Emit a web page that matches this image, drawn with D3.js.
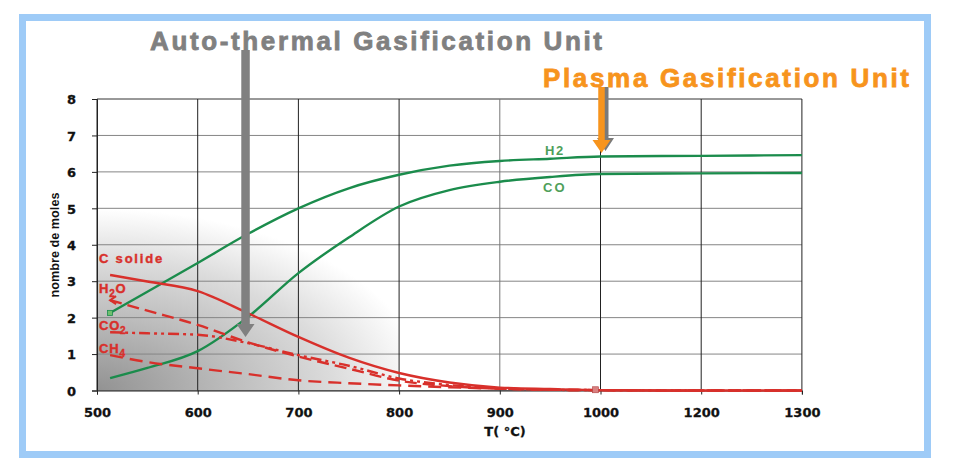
<!DOCTYPE html>
<html>
<head>
<meta charset="utf-8">
<script src="https://cdn.jsdelivr.net/npm/d3@7/dist/d3.min.js"></script>
<style>
html,body{margin:0;padding:0;background:#fff;}
svg{display:block;}
</style>
</head>
<body>
<svg id="chart" width="978" height="463"></svg>
<script>
// ---- data ----
const xTicks = [500, 600, 700, 800, 900, 1000, 1200, 1300];
const yTicks = [0, 1, 2, 3, 4, 5, 6, 7, 8];
const temps   = [513, 550, 600, 650, 700, 750, 800, 850, 900, 950, 1000, 1200, 1300];
const h2      = [2.13, 2.71, 3.50, 4.30, 5.00, 5.55, 5.92, 6.17, 6.30, 6.36, 6.42, 6.44, 6.46];
const co      = [0.34, 0.62, 1.08, 2.02, 3.22, 4.20, 5.05, 5.50, 5.73, 5.86, 5.94, 5.96, 5.97];
const cSolide = [3.17, 2.99, 2.73, 2.12, 1.47, 0.90, 0.48, 0.22, 0.08, 0.04, 0.01, 0, 0];
const h2o     = [2.48, 2.19, 1.80, 1.32, 0.93, 0.60, 0.27, 0.12, 0.05, 0.02, 0.01, 0, 0];
const co2     = [1.60, 1.57, 1.53, 1.30, 0.97, 0.68, 0.33, 0.15, 0.06, 0.02, 0.01, 0, 0];
const ch4     = [0.97, 0.78, 0.61, 0.45, 0.28, 0.20, 0.14, 0.09, 0.05, 0.02, 0.01, 0, 0];
const titleAuto = "Auto-thermal Gasification Unit";
const titlePlasma = "Plasma Gasification Unit";
const yLabel = "nombre de moles";
const xLabel = "T( °C)";
const autoT = 647;    // temperature pointed by the grey arrow
const plasmaT = 1000; // temperature pointed by the orange arrow

(function () {
// ---- layout ----
const svg = d3.select("#chart");
const pLeft = 97, pTop = 99, step = 100.7, pBottom = 390.5;
const x = d3.scaleLinear().domain(xTicks).range(xTicks.map((d, i) => pLeft + i * step));
const y = d3.scaleLinear().domain([0, 8]).range([pBottom, pTop]);
const pRight = x(1300);

const RED = "#d8302b", GREEN = "#1b8c4c", GREEN_TXT = "#4f9f5a", ORANGE = "#f7941d", GREY = "#808080";

// frame
svg.append("rect").attr("x", 22.5).attr("y", 17.5).attr("width", 905).attr("height", 437)
  .attr("fill", "#fff").attr("stroke", "#9ecbf7").attr("stroke-width", 7);

// shading gradient
const defs = svg.append("defs");
const grad = defs.append("radialGradient").attr("id", "shade")
  .attr("gradientUnits", "userSpaceOnUse")
  .attr("cx", pLeft).attr("cy", pBottom).attr("r", 330)
  .attr("gradientTransform", `translate(${pLeft},${pBottom}) scale(1,0.55) translate(${-pLeft},${-pBottom})`);
[[0, "#929292"], [0.4, "#bcbcbc"], [0.72, "#dcdcdc"], [1, "#ffffff"]].forEach(s =>
  grad.append("stop").attr("offset", s[0]).attr("stop-color", s[1]));
svg.append("rect").attr("x", pLeft).attr("y", y(5.2)).attr("width", x(800) - pLeft)
  .attr("height", pBottom - y(5.2)).attr("fill", "url(#shade)");

// grid
const g = svg.append("g");
g.selectAll(".hg").data(yTicks).join("line")
  .attr("x1", pLeft).attr("x2", pRight).attr("y1", d => y(d)).attr("y2", d => y(d))
  .attr("stroke", d => d === 8 ? "#333" : "#858585").attr("stroke-width", 1);
g.selectAll(".vg").data(xTicks).join("line")
  .attr("x1", d => x(d)).attr("x2", d => x(d)).attr("y1", pTop).attr("y2", pBottom)
  .attr("stroke", d => d === 900 ? "#777" : "#222").attr("stroke-width", 1);

// axes
const yAxis = svg.append("g").attr("transform", `translate(${pLeft},0)`)
  .call(d3.axisLeft(y).tickValues(yTicks).tickSize(5).tickPadding(16).tickFormat(d3.format("d")));
const xAxis = svg.append("g").attr("transform", `translate(0,${pBottom})`)
  .call(d3.axisBottom(x).tickValues(xTicks).tickSize(4).tickPadding(13).tickFormat(d3.format("d")));
[yAxis, xAxis].forEach(a => {
  a.select(".domain").attr("stroke", "#222");
  a.selectAll(".tick line").attr("stroke", "#222");
  a.selectAll("text").attr("font-family", "DejaVu Sans").attr("font-weight", "bold")
    .attr("font-size", 13).attr("fill", "#111").attr("stroke", "#111").attr("stroke-width", 0.3);
});
yAxis.selectAll("text").attr("dy", "0.36em");

// lines
const line = d3.line().x(d => x(d.T)).y(d => y(d.v)).curve(d3.curveMonotoneX);
const series = [
  { v: co,      color: GREEN, dash: null },
  { v: h2,      color: GREEN, dash: null },
  { v: ch4,     color: RED,   dash: "13,7" },
  { v: co2,     color: RED,   dash: "11,4,3,4,3,4" },
  { v: h2o,     color: RED,   dash: "12,6" },
  { v: cSolide, color: RED,   dash: null }
];
series.forEach(s => {
  const pts = temps.map((t, i) => ({ T: t, v: s.v[i] }));
  svg.append("path").datum(pts).attr("d", line).attr("fill", "none")
    .attr("stroke", s.color).attr("stroke-width", 2.4)
    .attr("stroke-dasharray", s.dash).attr("stroke-linejoin", "round");
});

// small markers
svg.append("rect").attr("x", x(temps[0]) - 2.5).attr("y", y(h2[0]) - 2.5).attr("width", 5).attr("height", 5)
  .attr("fill", "#6fbf6f").attr("stroke", GREEN).attr("stroke-width", 0.8);
svg.append("path")
  .attr("d", `M${x(temps[0]) + 6},${y(h2o[0]) - 4} L${x(temps[0])},${y(h2o[0])} L${x(temps[0]) + 6},${y(h2o[0]) + 4}`)
  .attr("fill", "none").attr("stroke", RED).attr("stroke-width", 2);
svg.append("rect").attr("x", x(995) - 3).attr("y", y(0.02) - 3).attr("width", 6).attr("height", 6)
  .attr("fill", "#d98080").attr("stroke", "#b04040").attr("stroke-width", 0.6);

// curve labels (red)
const labelFont = t => t.attr("font-family", "Liberation Sans").attr("font-weight", "bold").attr("font-size", 13)
  .attr("stroke-width", 0.4);
labelFont(svg.append("text").attr("x", 99).attr("y", 263).attr("fill", RED).attr("stroke", RED).attr("letter-spacing", 1.8).text("C solide"));
function chem(xp, yp, parts) {
  const t = labelFont(svg.append("text").attr("x", xp).attr("y", yp).attr("fill", RED).attr("stroke", RED).attr("letter-spacing", 0.8));
  parts.forEach(p => {
    t.append("tspan").attr("font-size", p[1] ? 10 : 13).attr("dy", p[1] ? 4 : (p[2] || 0)).text(p[0]);
  });
}
chem(99, 293, [["H"], ["2", true], ["O", false, -4]]);
chem(99, 330, [["CO"], ["2", true]]);
chem(99, 353, [["CH"], ["4", true]]);

// curve labels (green)
labelFont(svg.append("text").attr("x", 545).attr("y", 155).attr("fill", GREEN_TXT).attr("letter-spacing", 1.5).attr("font-size", 12).text("H2"));
labelFont(svg.append("text").attr("x", 543).attr("y", 192).attr("fill", GREEN_TXT).attr("letter-spacing", 2).attr("font-size", 12).text("CO"));

// axis titles
svg.append("text").attr("transform", `translate(59,245) rotate(-90)`).attr("text-anchor", "middle")
  .attr("font-family", "Liberation Sans").attr("font-weight", "bold").attr("font-size", 13)
  .attr("textLength", 105).attr("lengthAdjust", "spacingAndGlyphs").attr("fill", "#111").text(yLabel);
svg.append("text").attr("x", 505).attr("y", 436).attr("text-anchor", "middle")
  .attr("font-family", "DejaVu Sans").attr("font-weight", "bold").attr("font-size", 13)
  .attr("fill", "#111").attr("stroke", "#111").attr("stroke-width", 0.3).text(xLabel);

// titles
svg.append("text").attr("x", 150).attr("y", 50).attr("font-family", "Liberation Sans").attr("font-weight", "bold")
  .attr("font-size", 26).attr("fill", GREY).attr("stroke", GREY).attr("stroke-width", 0.8)
  .attr("textLength", 452).attr("lengthAdjust", "spacing").text(titleAuto);
svg.append("text").attr("x", 543).attr("y", 87).attr("font-family", "Liberation Sans").attr("font-weight", "bold")
  .attr("font-size", 26).attr("fill", ORANGE).attr("stroke", ORANGE).attr("stroke-width", 0.8)
  .attr("textLength", 366).attr("lengthAdjust", "spacing").text(titlePlasma);

// arrows
function arrow(cx, y0, y1, shaftW, headW, headH) {
  return `M${cx - shaftW / 2},${y0} L${cx + shaftW / 2},${y0} L${cx + shaftW / 2},${y1 - headH} ` +
    `L${cx + headW / 2},${y1 - headH} L${cx},${y1} L${cx - headW / 2},${y1 - headH} L${cx - shaftW / 2},${y1 - headH} Z`;
}
const ax = x(autoT) + 0.5;
svg.append("path").attr("d", arrow(ax, 50, 337, 8.5, 18, 13)).attr("fill", GREY);
const px = x(plasmaT) + 1;
svg.append("path").attr("d", arrow(px + 4, 87, 151, 6, 17, 13)).attr("fill", "#7a7a7a");
svg.append("path").attr("d", arrow(px, 87, 153, 6.5, 18, 13)).attr("fill", ORANGE);
})();
</script>
</body>
</html>
